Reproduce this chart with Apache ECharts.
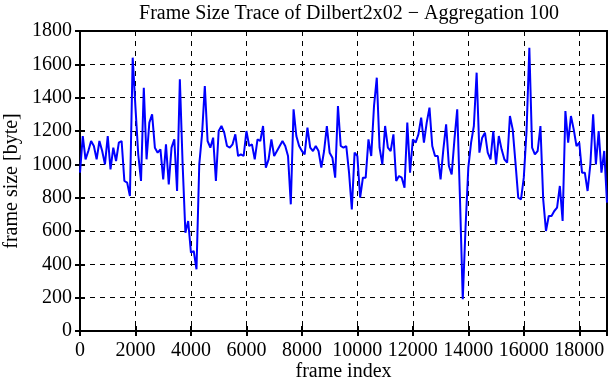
<!DOCTYPE html>
<html>
<head>
<meta charset="utf-8">
<script src="https://cdn.jsdelivr.net/npm/echarts@6/dist/echarts.min.js"></script>
<style>
  html, body { margin: 0; padding: 0; background: #fff; }
  #Trace { width: 611px; height: 380px; }
</style>
</head>
<body>
<div id="Trace"></div>
<script>
// aggregation window (frames per point)
var aggStep = 100
// frame size per aggregated point, frame 0 .. 19000
var frameSize = [
  950, 1170, 1030, 1080, 1140, 1110, 1030, 1140, 1080, 1000,
  1170, 970, 1100, 1020, 1130, 1140, 900, 890, 810, 1640,
  1340, 1060, 900, 1460, 1030, 1250, 1300, 1100, 1070, 1090,
  910, 1120, 880, 1100, 1150, 840, 1510, 1000, 590, 660,
  470, 480, 370, 1000, 1180, 1470, 1140, 1100, 1160, 900,
  1200, 1230, 1190, 1110, 1100, 1120, 1180, 1050, 1060, 1050,
  1200, 1110, 1120, 1030, 1150, 1140, 1230, 980, 1030, 1150,
  1050, 1080, 1110, 1140, 1110, 1050, 760, 1330, 1170, 1110,
  1080, 1060, 1220, 1100, 1080, 1110, 1080, 980, 1080, 1230,
  1070, 1040, 920, 1350, 1110, 1100, 1110, 950, 730, 1070,
  1050, 800, 920, 920, 1150, 1050, 1350, 1520, 1100, 1000,
  1230, 1100, 1080, 1180, 900, 930, 920, 860, 1250, 950,
  1150, 1130, 1180, 1280, 1130, 1250, 1340, 1110, 1050, 1050,
  910, 1090, 1240, 990, 940, 1150, 1330, 790, 190, 620,
  980, 1130, 1230, 1550, 1070, 1160, 1190, 1070, 1030, 1200,
  1000, 1170, 1090, 1030, 1010, 1290, 1210, 1010, 800, 790,
  920, 1200, 1700, 1100, 1060, 1080, 1230, 790, 600, 690,
  690, 720, 740, 870, 660, 1320, 1130, 1290, 1210, 1110,
  1130, 950, 950, 840, 1000, 1300, 1000, 1200, 950, 1080,
  770
]
// axis ranges
var xMax = 19000
var xTickStep = 2000
var yMax = 1800
var yTickStep = 200

var points = []
for (var i = 0; i < frameSize.length; i++) {
  points.push([i * aggStep, frameSize[i]])
}

var serif = "Liberation Serif"
var plain = function (v) { return String(v) } // no thousands separator
var Echarts = echarts.init(document.getElementById("Trace"))
Echarts.setOption({
  animation: false,
  backgroundColor: "#fff",
  title: {
    text: "Frame Size Trace of Dilbert2x02 \u2212 Aggregation 100",
    left: 344,
    textAlign: "center",
    top: -1,
    textStyle: { fontFamily: serif, fontSize: 20, fontWeight: "normal", color: "#000" }
  },
  grid: {
    left: 80, right: 4, top: 31, bottom: 49,
    outerBoundsMode: "none",
    show: true,
    borderColor: "#000",
    borderWidth: 2
  },
  xAxis: [
    {
      type: "value",
      min: 0, max: xMax, interval: xTickStep,
      name: "frame index",
      nameLocation: "middle",
      nameGap: 31,
      nameMoveOverlap: false,
      nameTextStyle: { fontFamily: serif, fontSize: 20, color: "#000" },
      axisLine: { show: false },
      axisTick: { inside: true, length: 5, lineStyle: { color: "#000", width: 2 } },
      axisLabel: { fontFamily: serif, fontSize: 20, color: "#000", margin: 10, showMaxLabel: false, formatter: plain },
      splitLine: { show: true, lineStyle: { color: "#000", width: 1, type: [5, 5] } }
    },
    {
      type: "value",
      position: "top",
      min: 0, max: xMax, interval: xTickStep,
      axisLine: { show: false },
      axisTick: { inside: true, length: 5, lineStyle: { color: "#000", width: 2 } },
      axisLabel: { show: false },
      splitLine: { show: false }
    }
  ],
  yAxis: [
    {
      type: "value",
      min: 0, max: yMax, interval: yTickStep,
      name: "frame size [byte]",
      nameLocation: "middle",
      nameGap: 58,
      nameMoveOverlap: false,
      nameTextStyle: { fontFamily: serif, fontSize: 20, color: "#000" },
      axisLine: { show: false },
      axisTick: { inside: true, length: 5, lineStyle: { color: "#000", width: 2 } },
      axisLabel: { fontFamily: serif, fontSize: 20, color: "#000", margin: 8, formatter: plain },
      splitLine: { show: true, lineStyle: { color: "#000", width: 1, type: [5, 5] } }
    },
    {
      type: "value",
      position: "right",
      min: 0, max: yMax, interval: yTickStep,
      axisLine: { show: false },
      axisTick: { inside: true, length: 5, lineStyle: { color: "#000", width: 2 } },
      axisLabel: { show: false },
      splitLine: { show: false }
    }
  ],
  series: [
    {
      type: "line",
      data: points,
      showSymbol: false,
      lineStyle: { color: "#0000ff", width: 2 },
      z: 5
    }
  ]
})
</script>
</body>
</html>
